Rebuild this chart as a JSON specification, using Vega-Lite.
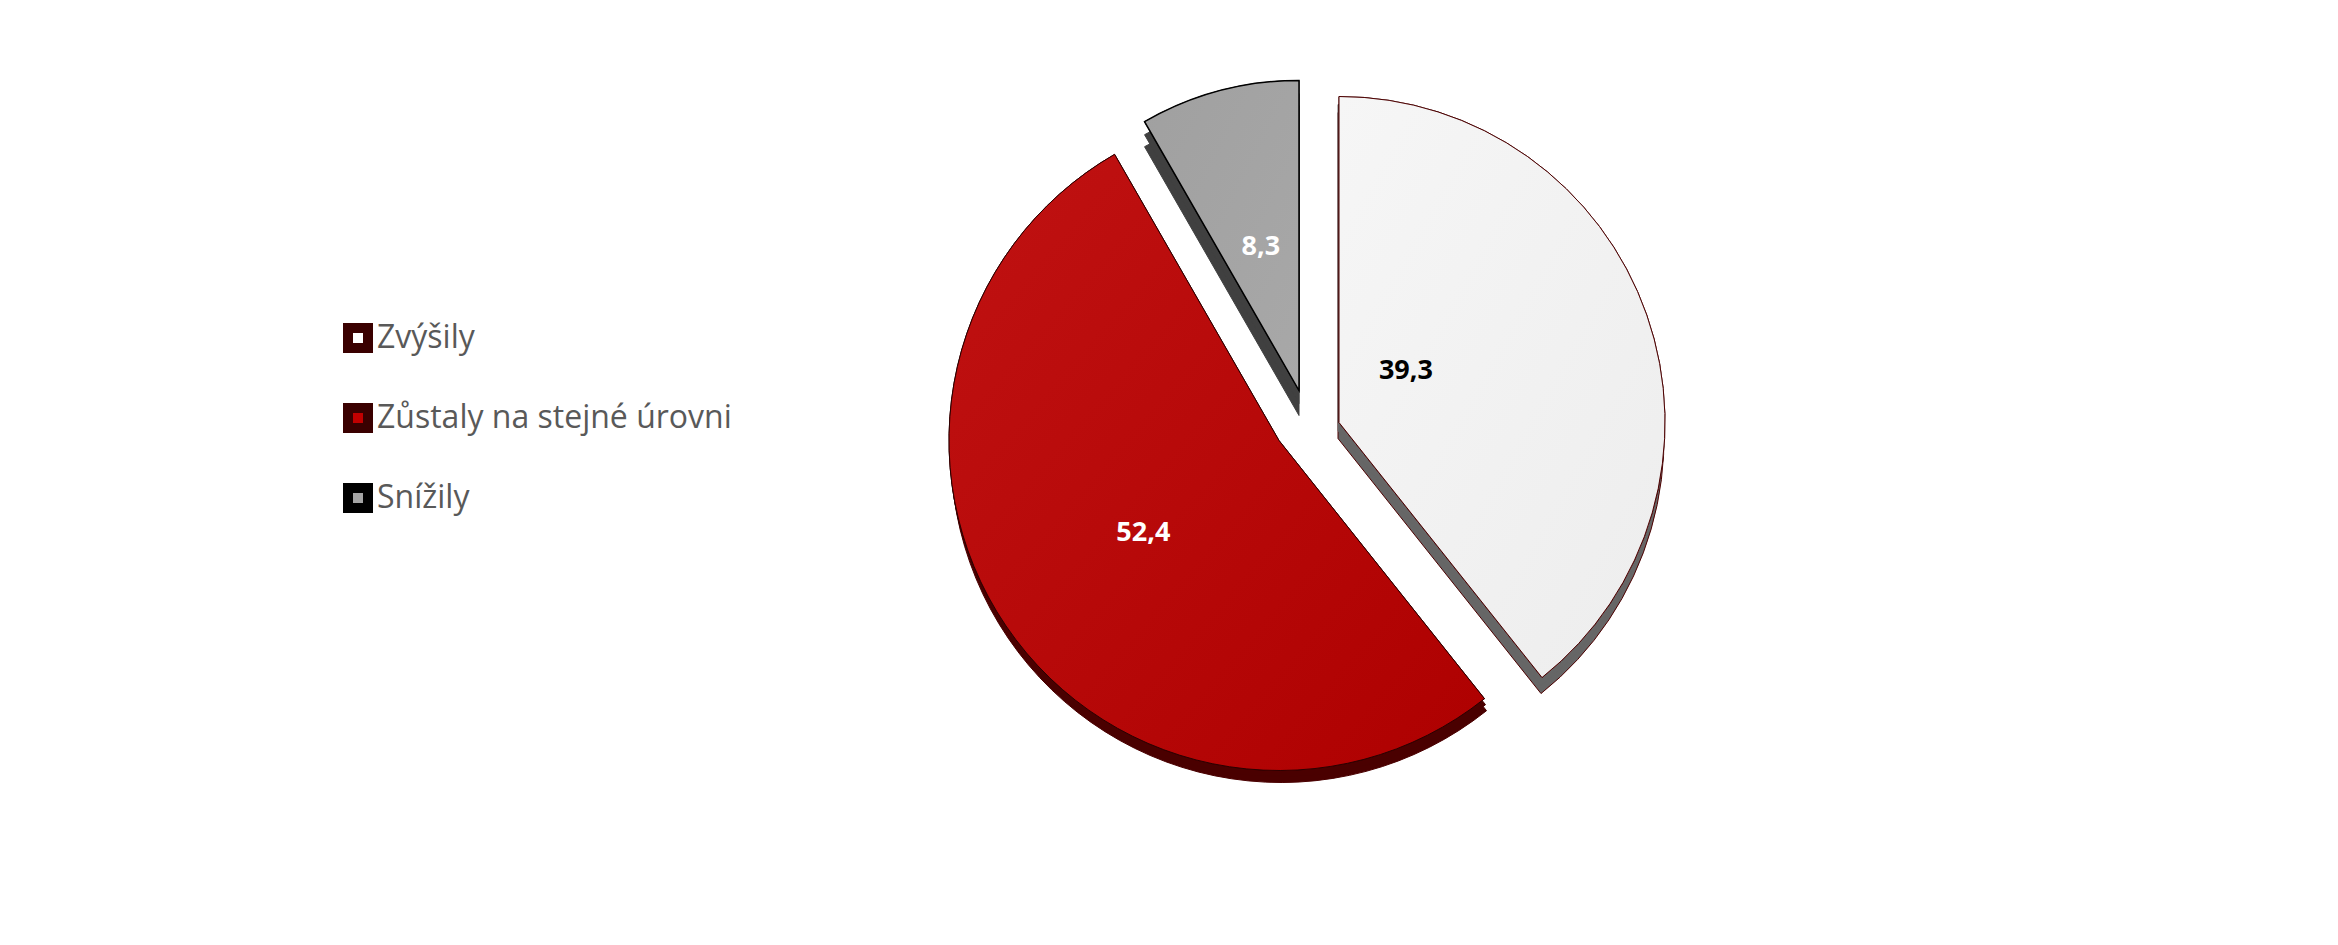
{"$schema":"https://vega.github.io/schema/vega-lite/v6.json","width":2338,"height":945,"padding":0,"autosize":{"type":"fit","contains":"padding"},"background":"white","view":{"stroke":null},
"data":{"values":[{"kategorie":"Zvýšily","hodnota":39.3,"poradi":1,"popisek":"39,3"},{"kategorie":"Zůstaly na stejné úrovni","hodnota":52.4,"poradi":2,"popisek":"52,4"},{"kategorie":"Snížily","hodnota":8.3,"poradi":3,"popisek":"8,3"}]},
"transform":[{"stack":"hodnota","sort":[{"field":"poradi"}],"groupby":[],"as":["y0","y1"]},{"calculate":"(datum.y0+datum.y1)/2","as":"stred"}],
"encoding":{"theta":{"field":"y0","type":"quantitative","scale":{"domain":[0,100],"range":[0,6.28319]}},"theta2":{"field":"y1"}},
"layer":[
{"transform":[{"filter":"datum.poradi==1"}],"mark":{"type":"arc","outerRadius":326,"xOffset":169,"yOffset":-34,"fill":"#666666","stroke":"#4d0000","strokeWidth":1}},
{"transform":[{"filter":"datum.poradi==1"}],"mark":{"type":"arc","outerRadius":326,"xOffset":169,"yOffset":-42,"fill":"#666666","stroke":"#666666","strokeWidth":1}},
{"transform":[{"filter":"datum.poradi==2"}],"mark":{"type":"arc","outerRadius":330,"xOffset":112,"yOffset":-20,"fill":"#4a0000","stroke":"#4a0000","strokeWidth":1}},
{"transform":[{"filter":"datum.poradi==2"}],"mark":{"type":"arc","outerRadius":330,"xOffset":111,"yOffset":-26,"fill":"#4a0000","stroke":"#4a0000","strokeWidth":1}},
{"transform":[{"filter":"datum.poradi==3"}],"mark":{"type":"arc","outerRadius":310,"xOffset":130,"yOffset":-57,"fill":"#404040","stroke":"#404040","strokeWidth":1}},
{"transform":[{"filter":"datum.poradi==3"}],"mark":{"type":"arc","outerRadius":310,"xOffset":130,"yOffset":-69,"fill":"#404040","stroke":"#404040","strokeWidth":1}},
{"transform":[{"filter":"datum.poradi==1"}],"mark":{"type":"arc","outerRadius":326,"xOffset":170,"yOffset":-50,"strokeWidth":1},
 "encoding":{"fill":{"field":"kategorie","type":"nominal","sort":null,"scale":{"domain":["Zvýšily","Zůstaly na stejné úrovni","Snížily"],"range":["#ffffff","#C00000","#A5A5A5"]},
 "legend":{"title":null,"orient":"none","legendX":342,"legendY":323,"symbolType":"square","symbolSize":400,"symbolStrokeWidth":10,"labelFont":"Open Sans","labelFontSize":32,"labelColor":"#595959","rowPadding":48,"labelOffset":3,"symbolOffset":0,"labelLimit":500,"clipHeight":30,"encoding":{"symbols":{"update":{"strokeJoin":{"value":"round"}}}}}},
 "stroke":{"field":"kategorie","type":"nominal","sort":null,"scale":{"domain":["Zvýšily","Zůstaly na stejné úrovni","Snížily"],"range":["#3a0000","#3a0000","#000000"]},"legend":{"title":null,"orient":"none","legendX":342,"legendY":323,"symbolType":"square","symbolSize":400,"symbolStrokeWidth":10,"labelFont":"Open Sans","labelFontSize":32,"labelColor":"#595959","rowPadding":48,"labelOffset":3,"symbolOffset":0,"labelLimit":500,"clipHeight":30,"encoding":{"symbols":{"update":{"strokeJoin":{"value":"round"}}}}}}}},
{"transform":[{"filter":"datum.poradi==2"}],"mark":{"type":"arc","outerRadius":330,"xOffset":110,"yOffset":-32,"strokeWidth":1},"encoding":{"fill":{"field":"kategorie","type":"nominal","sort":null},"stroke":{"field":"kategorie","type":"nominal","sort":null}}},
{"transform":[{"filter":"datum.poradi==3"}],"mark":{"type":"arc","outerRadius":310,"xOffset":130,"yOffset":-82,"strokeWidth":1},"encoding":{"fill":{"field":"kategorie","type":"nominal","sort":null},"stroke":{"field":"kategorie","type":"nominal","sort":null}}},
{"transform":[{"filter":"datum.poradi==1"}],"mark":{"type":"arc","outerRadius":326,"xOffset":170,"yOffset":-50,"stroke":"#4d0000","strokeWidth":1,"fill":{"gradient":"linear","x1":0,"y1":0,"x2":1,"y2":1,"stops":[{"offset":0,"color":"#F6F6F6"},{"offset":1,"color":"#EDEDED"}]}}},
{"transform":[{"filter":"datum.poradi==2"}],"mark":{"type":"arc","outerRadius":330,"xOffset":110,"yOffset":-32,"stroke":"#2a0000","strokeWidth":1,"fill":{"gradient":"linear","x1":0,"y1":0,"x2":1,"y2":1,"stops":[{"offset":0,"color":"#C01212"},{"offset":1,"color":"#AE0000"}]}}},
{"transform":[{"filter":"datum.poradi==3"}],"mark":{"type":"arc","outerRadius":310,"xOffset":130,"yOffset":-82,"stroke":"#000000","strokeWidth":1.5,"fill":{"gradient":"linear","x1":0,"y1":0,"x2":1,"y2":1,"stops":[{"offset":0,"color":"#A0A0A0"},{"offset":1,"color":"#A8A8A8"}]}}},
{"transform":[{"filter":"datum.poradi==1"}],"mark":{"type":"text","font":"Open Sans","fontWeight":"bold","fontSize":27,"color":"#000000","radius":73,"xOffset":168,"yOffset":-77},"encoding":{"theta":{"field":"stred","type":"quantitative","scale":{"domain":[0,100],"range":[0,6.28319]}},"theta2":null,"text":{"field":"popisek"}}},
{"transform":[{"filter":"datum.poradi==2"}],"mark":{"type":"text","font":"Open Sans","fontWeight":"bold","fontSize":27,"color":"#ffffff","radius":164,"xOffset":110,"yOffset":-32},"encoding":{"theta":{"field":"stred","type":"quantitative","scale":{"domain":[0,100],"range":[0,6.28319]}},"theta2":null,"text":{"field":"popisek"}}},
{"transform":[{"filter":"datum.poradi==3"}],"mark":{"type":"text","font":"Open Sans","fontWeight":"bold","fontSize":27,"color":"#ffffff","radius":148,"xOffset":130,"yOffset":-83},"encoding":{"theta":{"field":"stred","type":"quantitative","scale":{"domain":[0,100],"range":[0,6.28319]}},"theta2":null,"text":{"field":"popisek"}}}
]}
